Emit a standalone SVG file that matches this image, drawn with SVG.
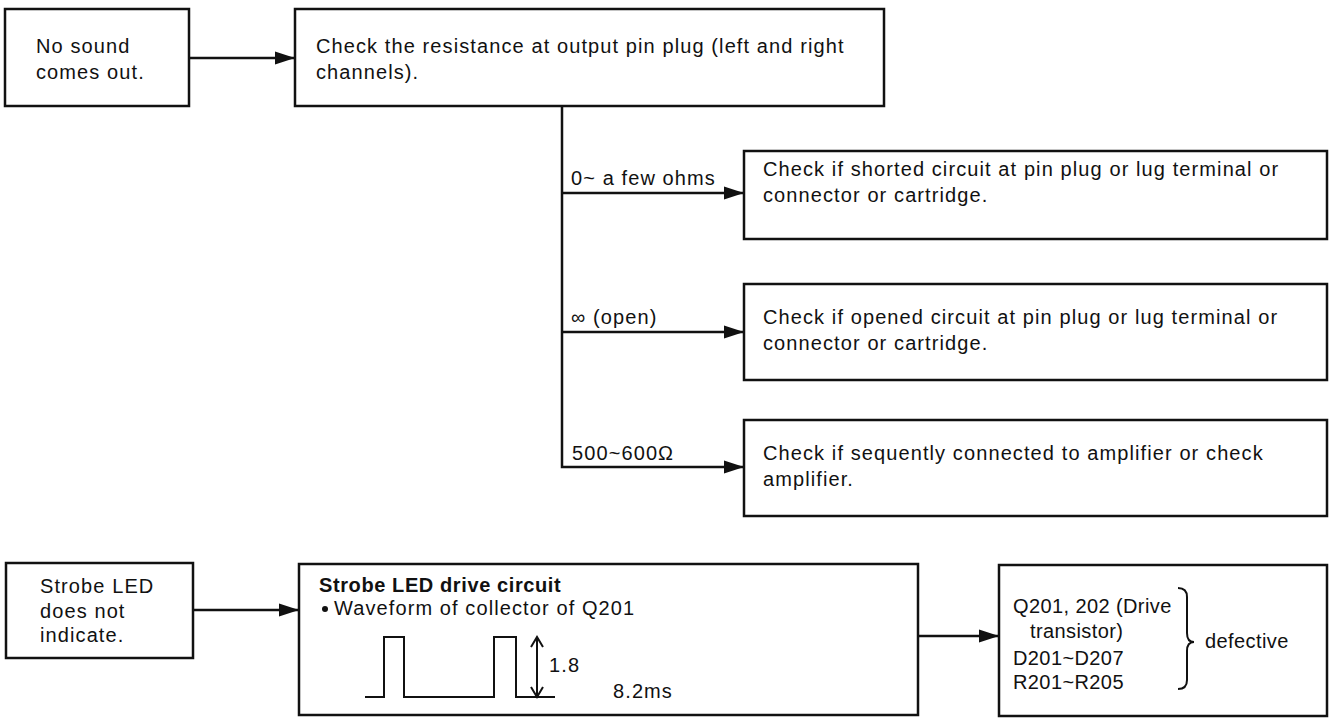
<svg xmlns="http://www.w3.org/2000/svg" width="1332" height="718" viewBox="0 0 1332 718">
<defs>
<style>
.box{fill:#fff;stroke:#111;stroke-width:2.5}
.t{font-family:"Liberation Sans",Arial,sans-serif;font-size:20px;letter-spacing:1.1px;fill:#111}
.b{font-weight:bold;letter-spacing:0.6px}
.n{letter-spacing:0.4px}
.ln{fill:none;stroke:#111;stroke-width:2.5}
.thin{fill:none;stroke:#111;stroke-width:2}
</style>
<marker id="ah" markerWidth="20" markerHeight="14" refX="19" refY="7" orient="auto" markerUnits="userSpaceOnUse">
<path d="M0,0.5 L20,7 L0,13.5 Z" fill="#111"/>
</marker>
</defs>
<rect width="1332" height="718" fill="#fff"/>
<g id="connectors">
<line class="ln" x1="189" y1="58" x2="294" y2="58" marker-end="url(#ah)"/>
<polyline class="ln" points="562,107 562,467 743,467" marker-end="url(#ah)"/>
<line class="ln" x1="562" y1="193" x2="743" y2="193" marker-end="url(#ah)"/>
<line class="ln" x1="562" y1="332" x2="743" y2="332" marker-end="url(#ah)"/>
<line class="ln" x1="193" y1="610" x2="298" y2="610" marker-end="url(#ah)"/>
<line class="ln" x1="918" y1="636" x2="998" y2="636" marker-end="url(#ah)"/>
<text class="t" x="571" y="185">0~ a few ohms</text>
<text class="t" x="571" y="324">∞ (open)</text>
<text class="t" x="572" y="460">500~600Ω</text>
</g>
<g id="n1">
<rect class="box" x="5" y="9" width="184" height="97"/>
<text class="t" x="36" y="53">No sound</text>
<text class="t" x="36" y="79">comes out.</text>
</g>
<g id="n2">
<rect class="box" x="295" y="9" width="589" height="97"/>
<text class="t" x="316" y="53">Check the resistance at output pin plug (left and right</text>
<text class="t" x="316" y="79">channels).</text>
</g>
<g id="n3">
<rect class="box" x="744" y="151" width="583" height="88"/>
<text class="t" x="763" y="176">Check if shorted circuit at pin plug or lug terminal or</text>
<text class="t" x="763" y="202">connector or cartridge.</text>
</g>
<g id="n4">
<rect class="box" x="744" y="284" width="583" height="96"/>
<text class="t" x="763" y="324">Check if opened circuit at pin plug or lug terminal or</text>
<text class="t" x="763" y="350">connector or cartridge.</text>
</g>
<g id="n5">
<rect class="box" x="744" y="420" width="583" height="96"/>
<text class="t" x="763" y="460">Check if sequently connected to amplifier or check</text>
<text class="t" x="763" y="486">amplifier.</text>
</g>
<g id="n6">
<rect class="box" x="6" y="563" width="187" height="95"/>
<text class="t" x="40" y="593">Strobe LED</text>
<text class="t" x="40" y="618">does not</text>
<text class="t" x="40" y="642">indicate.</text>
</g>
<g id="n7">
<rect class="box" x="299" y="564" width="619" height="151"/>
<text class="t b" x="319" y="592">Strobe LED drive circuit</text>
<circle cx="325" cy="609" r="3" fill="#111"/>
<text class="t" x="334" y="615">Waveform of collector of Q201</text>
<polyline class="thin" points="365,697 384,697 384,637 404,637 404,697 494,697 494,637 516,637 516,697 555,697"/>
<line class="thin" x1="537" y1="638" x2="537" y2="696"/>
<polyline class="thin" points="531,647 537,637 543,647"/>
<polyline class="thin" points="531,687 537,697 543,687"/>
<text class="t" x="549" y="672">1.8</text>
<text class="t" x="613" y="698">8.2ms</text>
</g>
<g id="n8">
<rect class="box" x="999" y="565" width="328" height="151"/>
<text class="t n" x="1013" y="613">Q201, 202 (Drive</text>
<text class="t n" x="1030" y="638">transistor)</text>
<text class="t n" x="1013" y="665">D201~D207</text>
<text class="t n" x="1013" y="689">R201~R205</text>
<path class="thin" d="M1178,588 Q1187,588 1187,597 L1187,633 Q1187,642 1194,642 Q1187,642 1187,651 L1187,680 Q1187,689 1178,689"/>
<text class="t n" x="1205" y="648">defective</text>
</g>
</svg>
